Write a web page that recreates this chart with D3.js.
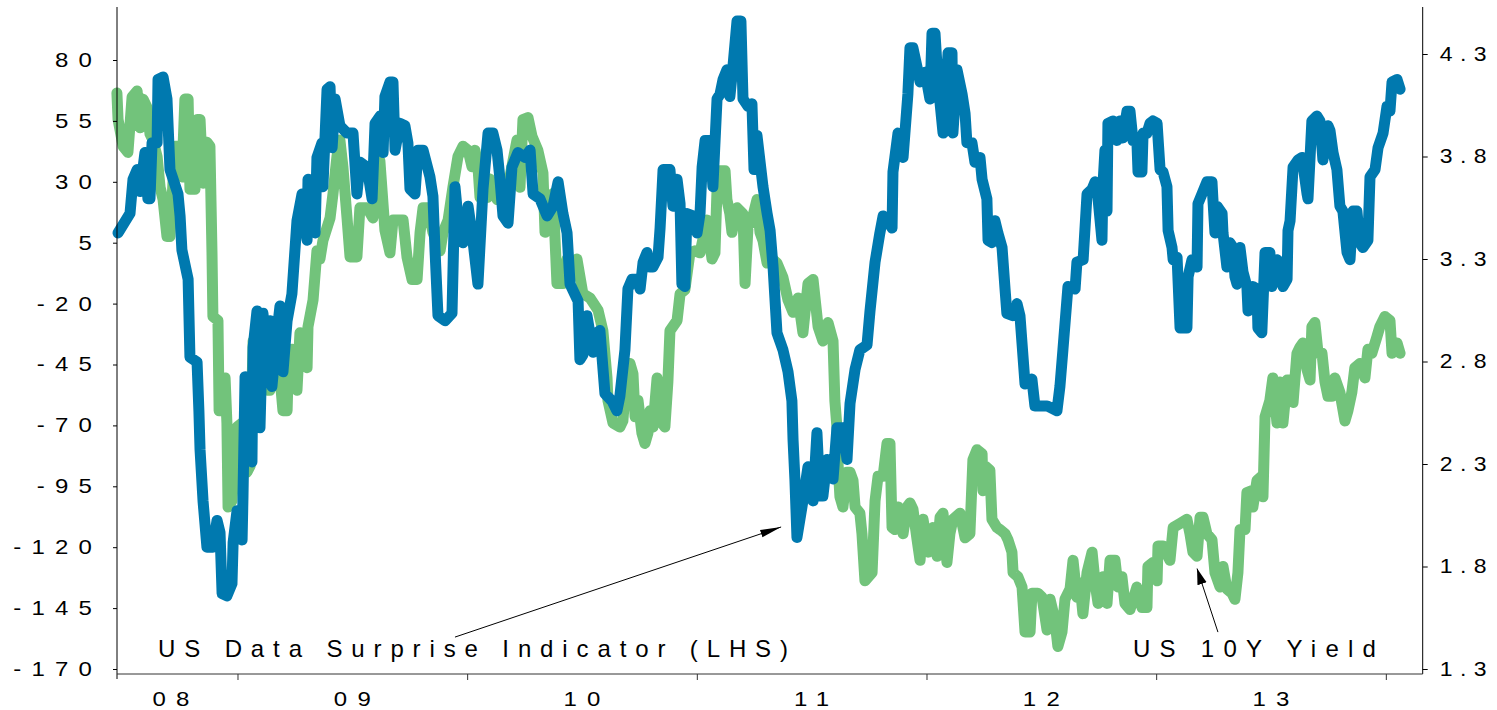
<!DOCTYPE html>
<html><head><meta charset="utf-8">
<script src="https://cdn.jsdelivr.net/npm/d3@7"></script>
<style>
html,body{margin:0;padding:0;background:#fff;}
svg{display:block;}
</style></head><body>
<svg id="chart" width="1497" height="710"></svg>
<script>
// ---- DATA (decimal year, value) ----
const surpriseSeries = [[2008.480,9],[2008.532,17],[2008.545,31],[2008.563,35],[2008.576,26],[2008.597,42],[2008.610,23],[2008.619,23],[2008.628,46],[2008.650,46],[2008.654,72],[2008.676,73],[2008.693,64],[2008.706,35],[2008.741,25],[2008.750,16],[2008.758,2],[2008.785,-10],[2008.793,-42],[2008.824,-44],[2008.832,-64],[2008.837,-80],[2008.850,-101],[2008.867,-120],[2008.893,-120],[2008.911,-109],[2008.924,-114],[2008.933,-139],[2008.954,-140],[2008.976,-135],[2008.981,-118],[2008.998,-105],[2009.020,-117],[2009.024,-99],[2009.033,-50],[2009.046,-51],[2009.063,-85],[2009.068,-38],[2009.085,-23],[2009.098,-71],[2009.111,-24],[2009.129,-44],[2009.142,-27],[2009.150,-54],[2009.172,-32],[2009.185,-21],[2009.198,-48],[2009.216,-27],[2009.237,-16],[2009.259,14],[2009.281,25],[2009.303,6],[2009.307,31],[2009.338,9],[2009.346,40],[2009.368,46],[2009.372,28],[2009.390,68],[2009.403,69],[2009.412,44],[2009.425,64],[2009.446,53],[2009.477,50],[2009.503,50],[2009.520,25],[2009.534,38],[2009.564,36],[2009.586,23],[2009.599,54],[2009.621,57],[2009.634,42],[2009.642,65],[2009.664,71],[2009.677,71],[2009.686,43],[2009.708,54],[2009.729,53],[2009.742,46],[2009.751,27],[2009.773,25],[2009.786,43],[2009.808,43],[2009.838,32],[2009.851,24],[2009.860,2],[2009.873,-25],[2009.904,-27],[2009.934,-24],[2009.947,28],[2009.969,6],[2009.982,5],[2010.004,20],[2010.025,6],[2010.047,-12],[2010.069,27],[2010.091,50],[2010.112,50],[2010.130,43],[2010.143,31],[2010.156,16],[2010.178,13],[2010.195,36],[2010.221,42],[2010.252,40],[2010.274,43],[2010.287,25],[2010.317,23],[2010.348,16],[2010.374,20],[2010.396,30],[2010.417,17],[2010.435,9],[2010.448,-12],[2010.483,-19],[2010.491,-43],[2010.504,-41],[2010.522,-25],[2010.548,-40],[2010.565,-32],[2010.578,-31],[2010.600,-57],[2010.631,-60],[2010.652,-64],[2010.665,-58],[2010.687,-39],[2010.700,-14],[2010.718,-10],[2010.739,-10],[2010.753,-14],[2010.766,-3],[2010.783,1],[2010.796,-5],[2010.809,-5],[2010.831,-1],[2010.840,11],[2010.853,35],[2010.883,35],[2010.896,20],[2010.914,31],[2010.927,21],[2010.935,-12],[2010.948,-13],[2010.957,17],[2010.983,16],[2011.001,9],[2011.014,17],[2011.023,36],[2011.036,47],[2011.057,47],[2011.070,28],[2011.088,64],[2011.101,66],[2011.114,72],[2011.131,76],[2011.144,65],[2011.157,77],[2011.175,96],[2011.192,96],[2011.201,64],[2011.223,61],[2011.240,62],[2011.249,35],[2011.262,49],[2011.288,28],[2011.306,17],[2011.319,10],[2011.332,-5],[2011.349,-32],[2011.375,-39],[2011.397,-48],[2011.414,-60],[2011.419,-76],[2011.427,-92],[2011.436,-116],[2011.462,-101],[2011.484,-87],[2011.506,-101],[2011.523,-73],[2011.536,-99],[2011.549,-99],[2011.567,-84],[2011.593,-92],[2011.610,-71],[2011.636,-71],[2011.654,-84],[2011.667,-61],[2011.689,-47],[2011.710,-39],[2011.741,-37],[2011.754,-23],[2011.776,-3],[2011.797,9],[2011.811,16],[2011.832,14],[2011.850,11],[2011.854,34],[2011.876,50],[2011.898,40],[2011.919,66],[2011.928,85],[2011.941,85],[2011.959,77],[2011.972,71],[2011.994,75],[2012.015,64],[2012.024,91],[2012.037,91],[2012.050,71],[2012.072,50],[2012.094,83],[2012.111,83],[2012.115,50],[2012.133,76],[2012.155,66],[2012.168,58],[2012.176,46],[2012.198,46],[2012.211,38],[2012.233,40],[2012.242,31],[2012.263,23],[2012.268,6],[2012.285,5],[2012.298,14],[2012.311,9],[2012.329,3],[2012.342,-14],[2012.350,-24],[2012.376,-25],[2012.394,-20],[2012.407,-25],[2012.429,-53],[2012.459,-51],[2012.472,-62],[2012.525,-62],[2012.568,-64],[2012.581,-54],[2012.594,-39],[2012.616,-13],[2012.647,-14],[2012.655,-3],[2012.682,-2],[2012.699,25],[2012.721,27],[2012.734,30],[2012.742,28],[2012.764,6],[2012.768,28],[2012.777,43],[2012.786,18],[2012.790,54],[2012.812,55],[2012.829,47],[2012.842,55],[2012.855,48],[2012.873,59],[2012.886,59],[2012.899,47],[2012.916,47],[2012.921,34],[2012.938,34],[2012.943,50],[2012.960,50],[2012.973,54],[2012.986,55],[2013.004,54],[2013.017,35],[2013.030,34],[2013.047,28],[2013.052,10],[2013.069,3],[2013.074,-2],[2013.091,-1],[2013.104,-30],[2013.134,-30],[2013.139,-9],[2013.156,-2],[2013.178,-5],[2013.182,21],[2013.221,30],[2013.243,30],[2013.247,23],[2013.256,9],[2013.265,20],[2013.287,17],[2013.291,9],[2013.308,-5],[2013.321,5],[2013.335,3],[2013.343,-9],[2013.352,-12],[2013.365,3],[2013.378,-7],[2013.395,-13],[2013.400,-23],[2013.421,-13],[2013.439,-14],[2013.443,-30],[2013.460,-32],[2013.474,1],[2013.495,1],[2013.504,-13],[2013.526,-2],[2013.539,-3],[2013.552,-13],[2013.570,-10],[2013.574,10],[2013.583,14],[2013.596,36],[2013.618,39],[2013.635,40],[2013.657,25],[2013.661,23],[2013.678,55],[2013.700,57],[2013.713,55],[2013.726,39],[2013.748,53],[2013.757,51],[2013.770,42],[2013.787,35],[2013.800,20],[2013.813,18],[2013.831,1],[2013.844,-2],[2013.857,18],[2013.874,18],[2013.887,5],[2013.900,3],[2013.922,6],[2013.931,32],[2013.953,35],[2013.966,44],[2013.988,50],[2014.005,61],[2014.018,59],[2014.027,71],[2014.049,72],[2014.062,68]];

const yieldSeries = [[2008.475,4.11],[2008.480,3.98],[2008.502,3.85],[2008.523,3.82],[2008.541,4.09],[2008.563,4.12],[2008.576,3.94],[2008.589,4.08],[2008.606,4.04],[2008.619,3.91],[2008.632,3.88],[2008.650,3.80],[2008.663,3.65],[2008.676,3.59],[2008.693,3.41],[2008.706,3.41],[2008.715,3.59],[2008.728,3.85],[2008.741,3.85],[2008.758,3.70],[2008.771,4.08],[2008.785,4.08],[2008.793,3.64],[2008.815,3.64],[2008.824,3.98],[2008.837,3.98],[2008.850,3.67],[2008.867,3.87],[2008.880,3.85],[2008.889,3.33],[2008.893,3.02],[2008.915,3.00],[2008.920,2.56],[2008.946,2.72],[2008.954,2.50],[2008.959,2.09],[2008.976,2.12],[2008.998,2.48],[2009.020,2.50],[2009.041,2.26],[2009.055,2.29],[2009.068,2.90],[2009.098,2.90],[2009.120,2.77],[2009.129,2.66],[2009.142,2.66],[2009.150,2.95],[2009.172,2.89],[2009.198,2.56],[2009.216,2.56],[2009.220,2.72],[2009.237,2.86],[2009.259,2.66],[2009.272,2.94],[2009.303,2.77],[2009.307,2.97],[2009.329,3.10],[2009.346,3.34],[2009.359,3.30],[2009.372,3.39],[2009.403,3.50],[2009.416,3.62],[2009.433,3.80],[2009.446,3.88],[2009.459,3.75],[2009.477,3.50],[2009.490,3.31],[2009.520,3.31],[2009.533,3.55],[2009.564,3.55],[2009.590,3.50],[2009.607,3.78],[2009.620,3.78],[2009.642,3.44],[2009.664,3.33],[2009.677,3.49],[2009.721,3.49],[2009.738,3.31],[2009.760,3.20],[2009.782,3.20],[2009.795,3.43],[2009.808,3.55],[2009.829,3.55],[2009.851,3.43],[2009.882,3.34],[2009.895,3.43],[2009.917,3.49],[2009.938,3.65],[2009.960,3.80],[2009.982,3.85],[2010.004,3.83],[2010.021,3.75],[2010.034,3.83],[2010.047,3.75],[2010.056,3.60],[2010.086,3.60],[2010.099,3.69],[2010.130,3.59],[2010.156,3.65],[2010.186,3.70],[2010.217,3.88],[2010.230,3.65],[2010.243,3.98],[2010.265,3.99],[2010.282,3.90],[2010.308,3.83],[2010.330,3.72],[2010.339,3.43],[2010.352,3.55],[2010.374,3.62],[2010.391,3.18],[2010.417,3.18],[2010.435,3.30],[2010.461,3.23],[2010.478,3.30],[2010.504,3.13],[2010.535,3.11],[2010.570,3.05],[2010.591,2.95],[2010.609,2.72],[2010.613,2.61],[2010.635,2.50],[2010.665,2.48],[2010.678,2.51],[2010.696,2.77],[2010.709,2.79],[2010.722,2.74],[2010.731,2.53],[2010.744,2.61],[2010.761,2.45],[2010.774,2.40],[2010.787,2.45],[2010.796,2.56],[2010.809,2.48],[2010.827,2.72],[2010.848,2.50],[2010.861,2.48],[2010.874,2.70],[2010.883,2.95],[2010.914,3.00],[2010.927,3.13],[2010.948,3.15],[2010.970,3.33],[2010.992,3.34],[2011.014,3.33],[2011.044,3.49],[2011.066,3.30],[2011.079,3.33],[2011.088,3.64],[2011.101,3.73],[2011.123,3.73],[2011.131,3.59],[2011.144,3.52],[2011.153,3.43],[2011.175,3.55],[2011.201,3.52],[2011.210,3.18],[2011.223,3.46],[2011.240,3.49],[2011.262,3.59],[2011.275,3.43],[2011.288,3.39],[2011.306,3.28],[2011.319,3.31],[2011.349,3.28],[2011.375,3.21],[2011.397,3.10],[2011.419,3.04],[2011.441,3.11],[2011.462,2.94],[2011.484,3.18],[2011.506,3.20],[2011.528,2.97],[2011.549,2.90],[2011.571,2.99],[2011.593,2.90],[2011.601,2.61],[2011.610,2.48],[2011.614,2.32],[2011.623,2.14],[2011.636,2.09],[2011.654,2.26],[2011.667,2.26],[2011.680,2.22],[2011.689,2.09],[2011.710,2.06],[2011.719,1.96],[2011.732,1.73],[2011.763,1.77],[2011.776,2.12],[2011.789,2.24],[2011.811,2.24],[2011.828,2.40],[2011.841,2.40],[2011.850,1.99],[2011.863,1.98],[2011.876,2.09],[2011.898,1.96],[2011.915,2.09],[2011.928,2.11],[2011.941,2.08],[2011.959,1.93],[2011.972,1.83],[2011.985,2.03],[2012.007,1.87],[2012.028,1.99],[2012.046,1.85],[2012.059,2.04],[2012.072,2.06],[2012.089,1.82],[2012.102,1.96],[2012.115,2.03],[2012.146,2.06],[2012.168,1.94],[2012.189,1.96],[2012.202,2.32],[2012.220,2.37],[2012.242,2.35],[2012.246,2.17],[2012.255,2.29],[2012.276,2.27],[2012.285,2.03],[2012.307,1.99],[2012.320,1.98],[2012.342,1.96],[2012.355,1.93],[2012.372,1.87],[2012.377,1.77],[2012.398,1.75],[2012.416,1.70],[2012.429,1.48],[2012.451,1.48],[2012.459,1.67],[2012.485,1.67],[2012.503,1.65],[2012.525,1.49],[2012.538,1.64],[2012.559,1.54],[2012.572,1.41],[2012.590,1.48],[2012.603,1.64],[2012.625,1.69],[2012.638,1.83],[2012.655,1.65],[2012.668,1.72],[2012.681,1.57],[2012.699,1.77],[2012.721,1.87],[2012.734,1.72],[2012.747,1.62],[2012.768,1.75],[2012.786,1.62],[2012.799,1.83],[2012.821,1.83],[2012.834,1.70],[2012.851,1.75],[2012.864,1.62],[2012.886,1.59],[2012.916,1.70],[2012.938,1.60],[2012.960,1.60],[2012.964,1.80],[2012.986,1.82],[2013.004,1.73],[2013.008,1.90],[2013.030,1.90],[2013.060,1.83],[2013.074,1.99],[2013.104,2.01],[2013.134,2.03],[2013.147,1.96],[2013.160,1.87],[2013.178,1.85],[2013.191,2.04],[2013.204,2.04],[2013.221,1.96],[2013.243,1.93],[2013.256,1.77],[2013.278,1.70],[2013.291,1.80],[2013.308,1.69],[2013.330,1.67],[2013.343,1.64],[2013.356,1.77],[2013.365,1.98],[2013.387,1.98],[2013.395,2.16],[2013.417,2.17],[2013.421,2.09],[2013.439,2.22],[2013.460,2.24],[2013.465,2.14],[2013.474,2.53],[2013.495,2.61],[2013.508,2.72],[2013.526,2.50],[2013.539,2.70],[2013.552,2.50],[2013.570,2.71],[2013.583,2.71],[2013.596,2.60],[2013.613,2.84],[2013.626,2.87],[2013.639,2.89],[2013.657,2.76],[2013.670,2.71],[2013.678,2.97],[2013.691,2.99],[2013.705,2.84],[2013.722,2.84],[2013.735,2.70],[2013.748,2.63],[2013.765,2.63],[2013.778,2.72],[2013.800,2.65],[2013.822,2.51],[2013.835,2.56],[2013.852,2.65],[2013.865,2.77],[2013.887,2.79],[2013.909,2.72],[2013.922,2.86],[2013.939,2.84],[2013.961,2.92],[2013.974,2.97],[2013.996,3.02],[2014.018,3.00],[2014.027,2.84],[2014.049,2.89],[2014.062,2.84]];

const leftTicks = [80, 55, 30, 5, -20, -45, -70, -95, -120, -145, -170];
const rightTicks = [4.3, 3.8, 3.3, 2.8, 2.3, 1.8, 1.3];
const yearTicks = [2009, 2010, 2011, 2012, 2013, 2014];
const yearLabels = ["08", "09", "10", "11", "12", "13"];
const yearLabelPos = [2008.71, 2009.5, 2010.5, 2011.5, 2012.5, 2013.5];

const surpriseLabel = {text: "US Data Surprise Indicator (LHS)", start: 2008.654, end: 2011.397, baseline: -165.1,
  arrowFrom: [2009.947, -156.9], arrowTo: [2011.367, -111.7]};
const yieldLabel = {text: "US 10Y Yield", start: 2012.899, end: 2013.957, baseline: -165.1,
  arrowFrom: [2013.269, 1.48], arrowTo: [2013.178, 1.79]};

// ---- LAYOUT ----
const FONT = '"Liberation Sans", Arial, Helvetica, sans-serif';
const BLUE = "#0079AF", GREEN = "#72C37B";
const LINE_W = 11;

const svg = d3.select("#chart");
svg.append("rect").attr("width", 1497).attr("height", 710).attr("fill", "#fff");

const x = d3.scaleLinear().domain([2008.4754, 2014.1605]).range([117, 1422.7]);
const yL = d3.scaleLinear().domain([-170, 80]).range([669, 60]);
const yR = d3.scaleLinear().domain([1.3, 4.3]).range([669, 54]);
const plotTop = 7, plotBottom = 674;
const x0 = x.range()[0], x1 = x.range()[1];

// lines
svg.append("path").datum(yieldSeries)
  .attr("d", d3.line().x(d => x(d[0])).y(d => yR(d[1])))
  .attr("fill", "none").attr("stroke", GREEN).attr("stroke-width", LINE_W)
  .attr("stroke-linejoin", "round").attr("stroke-linecap", "round");
svg.append("path").datum(surpriseSeries)
  .attr("d", d3.line().x(d => x(d[0])).y(d => yL(d[1])))
  .attr("fill", "none").attr("stroke", BLUE).attr("stroke-width", LINE_W)
  .attr("stroke-linejoin", "round").attr("stroke-linecap", "round");

function stretchLabels(g, sx, ls) {
  g.selectAll(".tick text").each(function() {
    const t = d3.select(this);
    const xv = +t.attr("x") || 0;
    t.attr("x", xv / sx).attr("transform", `scale(${sx},1)`)
     .style("letter-spacing", ls + "px").attr("fill", "#000");
  });
}

// left axis
const gL = svg.append("g").attr("transform", `translate(${x0},0)`)
  .call(d3.axisLeft(yL).tickValues(leftTicks).tickSize(4).tickPadding(11).tickFormat(d => String(d)))
  .attr("font-family", FONT).attr("font-size", 20);
gL.select(".domain").remove();
stretchLabels(gL, 1.2, 8.5);
gL.append("line").attr("x1", 0).attr("x2", 0).attr("y1", plotTop).attr("y2", plotBottom + 5).attr("stroke", "#000");

// right axis
const gR = svg.append("g").attr("transform", `translate(${x1},0)`)
  .call(d3.axisRight(yR).tickValues(rightTicks).tickSize(5).tickPadding(12).tickFormat(d3.format(".1f")))
  .attr("font-family", FONT).attr("font-size", 20);
gR.select(".domain").remove();
stretchLabels(gR, 1.15, 6.5);
gR.append("line").attr("x1", 0).attr("x2", 0).attr("y1", plotTop).attr("y2", plotBottom).attr("stroke", "#000");

// bottom axis
const SXB = 1.2, LSB = 8.5;
const gB = svg.append("g").attr("transform", `translate(0,${plotBottom})`)
  .call(d3.axisBottom(x).tickValues(yearTicks).tickSize(6).tickFormat(""));
gB.select(".domain").remove();
gB.append("line").attr("x1", x0).attr("x2", x1).attr("y1", 0).attr("y2", 0).attr("stroke", "#333");
gB.selectAll(".tick line").attr("stroke", "#333");
gB.selectAll("text.yl").data(yearLabels).enter().append("text")
  .attr("class", "yl")
  .attr("x", (d, i) => x(yearLabelPos[i]) / SXB)
  .attr("dx", LSB / 2)
  .attr("y", 32)
  .attr("transform", `scale(${SXB},1)`)
  .attr("text-anchor", "middle")
  .attr("font-family", FONT).attr("font-size", 20)
  .style("letter-spacing", LSB + "px")
  .attr("fill", "#000")
  .text(d => d);

// arrow markers
const defs = svg.append("defs");
defs.append("marker").attr("id", "ah1").attr("markerUnits", "userSpaceOnUse")
  .attr("viewBox", "0 -5 22 10").attr("refX", 21).attr("refY", 0)
  .attr("markerWidth", 22).attr("markerHeight", 10).attr("orient", "auto")
  .append("path").attr("d", "M0,-3.8L21,0L0,3.8Z").attr("fill", "#000");
defs.append("marker").attr("id", "ah2").attr("markerUnits", "userSpaceOnUse")
  .attr("viewBox", "0 -6 17 12").attr("refX", 16).attr("refY", 0)
  .attr("markerWidth", 17).attr("markerHeight", 12).attr("orient", "auto")
  .append("path").attr("d", "M0,-4.8L16,0L0,4.8Z").attr("fill", "#000");

function annotate(a, yScale, markerId) {
  svg.append("line")
    .attr("x1", x(a.arrowFrom[0])).attr("y1", yScale(a.arrowFrom[1]))
    .attr("x2", x(a.arrowTo[0])).attr("y2", yScale(a.arrowTo[1]))
    .attr("stroke", "#000").attr("stroke-width", 1)
    .attr("marker-end", `url(#${markerId})`);
  const t = svg.append("text")
    .attr("x", x(a.start)).attr("y", yL(a.baseline))
    .attr("font-family", FONT).attr("font-size", 24).attr("fill", "#000")
    .text(a.text);
  const natural = t.node().getComputedTextLength();
  const target = x(a.end) - x(a.start);
  const n = a.text.length;
  const ls = (target - natural) / (n - 1);
  t.style("letter-spacing", ls + "px");
}
annotate(surpriseLabel, yL, "ah1");
annotate(yieldLabel, yR, "ah2");
</script>
</body></html>
